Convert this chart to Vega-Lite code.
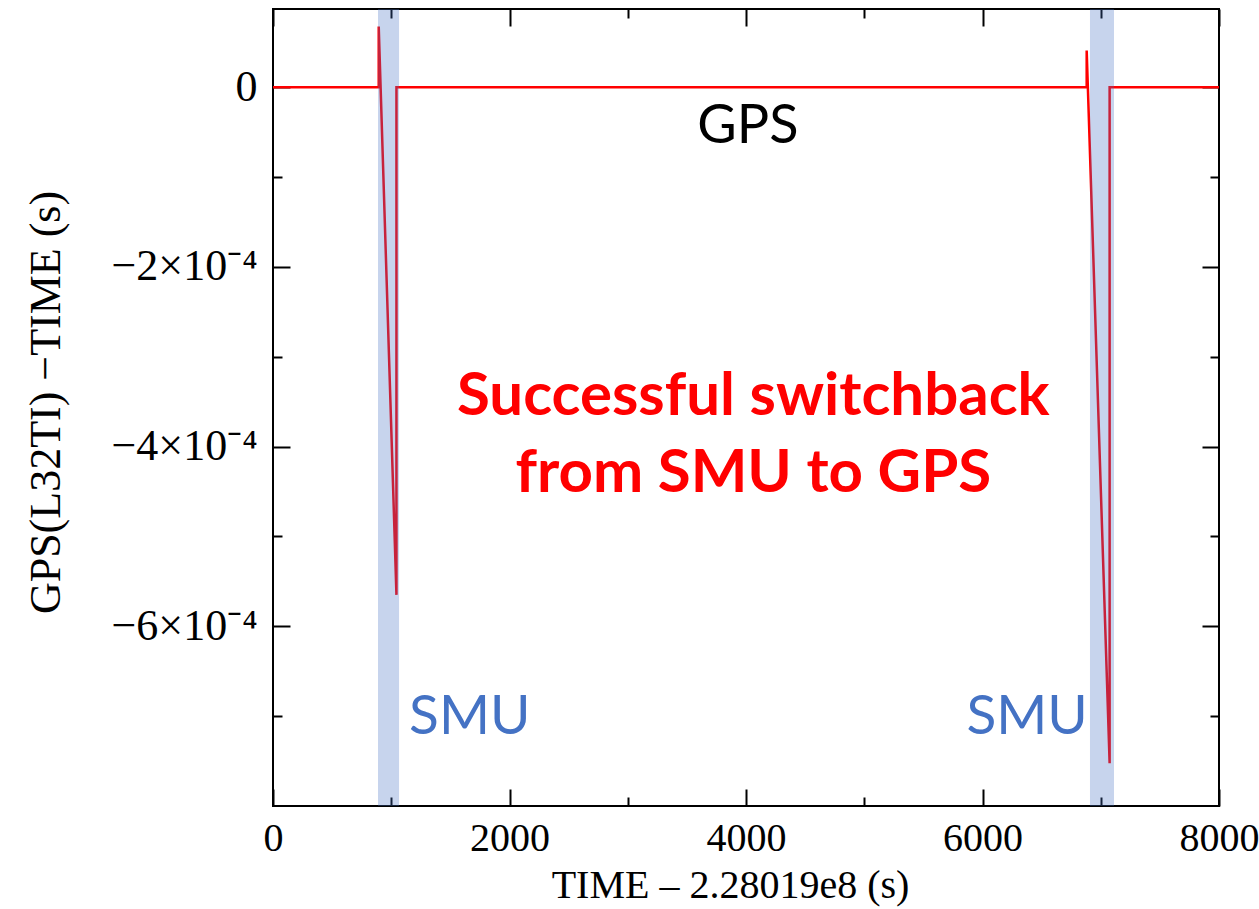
{
  "$schema": "https://vega.github.io/schema/vega-lite/v6.json",
  "width": 946,
  "height": 797,
  "autosize": {"type": "none"},
  "padding": {"left": 273, "top": 9, "right": 40, "bottom": 103},
  "background": "white",
  "config": {
    "view": {"stroke": "black", "strokeWidth": 2},
    "axis": {
      "labelFont": "Liberation Serif",
      "titleFont": "Liberation Serif",
      "labelColor": "black",
      "titleColor": "black",
      "tickColor": "black",
      "tickWidth": 2,
      "domain": false,
      "grid": false,
      "titleFontWeight": "normal",
      "labelOverlap": false,
      "labelFlush": false,
      "labelBound": false
    }
  },
  "datasets": {
    "trace": [
      {"i": 1, "t": 0, "dt": 0},
      {"i": 2, "t": 894, "dt": 0},
      {"i": 3, "t": 894, "dt": 0.0000675},
      {"i": 4, "t": 1044, "dt": -0.000565},
      {"i": 5, "t": 1044, "dt": 0},
      {"i": 6, "t": 6881, "dt": 0},
      {"i": 7, "t": 6881, "dt": 0.0000407},
      {"i": 8, "t": 7075, "dt": -0.0007525},
      {"i": 9, "t": 7075, "dt": 0},
      {"i": 10, "t": 8000, "dt": 0}
    ],
    "smu_periods": [
      {"start": 888, "end": 1066},
      {"start": 6909, "end": 7112}
    ],
    "source_label": [
      {"t": 4016, "dt": -0.0000442, "text": "GPS"}
    ],
    "smu_labels": [
      {"t": 1664, "dt": -0.000701, "text": "SMU"},
      {"t": 6377, "dt": -0.000701, "text": "SMU"}
    ],
    "note": [
      {"t": 4062, "dt": -0.0003446, "text": "Successful switchback"},
      {"t": 4062, "dt": -0.000431, "text": "from SMU to GPS"}
    ]
  },
  "layer": [
    {
      "data": {"name": "trace"},
      "mark": {"type": "line", "color": "#ff0000", "strokeWidth": 2.5},
      "encoding": {
        "x": {
          "field": "t", "type": "quantitative",
          "scale": {"domain": [0, 8000], "nice": false, "zero": false},
          "axis": {
            "orient": "bottom",
            "values": [0, 1000, 2000, 3000, 4000, 5000, 6000, 7000, 8000],
            "labelExpr": "datum.value % 2000 === 0 ? datum.label : ''",
            "format": "d",
            "tickSize": {"condition": {"test": "datum.value % 2000 === 0", "value": -17}, "value": -9},
            "labelFont": "Liberation Serif",
            "labelFontSize": 40,
            "labelBaseline": "middle",
            "labelPadding": 49,
            "title": "TIME – 2.28019e8 (s)",
            "titleFont": "Liberation Serif",
            "titleFontSize": 40,
            "titleBaseline": "alphabetic",
            "titleX": 457,
            "titleY": 91
          }
        },
        "y": {
          "field": "dt", "type": "quantitative",
          "scale": {"domain": [-0.0008, 0.000087], "nice": false, "zero": false},
          "axis": {
            "orient": "left",
            "values": [0, -0.0001, -0.0002, -0.0003, -0.0004, -0.0005, -0.0006, -0.0007],
            "labelExpr": "datum.value === 0 ? '0' : (round(datum.value * 10000) % 2 === 0 ? '−' + abs(round(datum.value * 10000)) + '×10⁻⁴' : '')",
            "tickSize": {"condition": {"test": "round(datum.value * 10000) % 2 === 0", "value": -17}, "value": -9},
            "labelFont": "Liberation Serif",
            "labelFontSize": 44,
            "labelPadding": 33,
            "title": "GPS(L32TI) −TIME (s)",
            "titleFont": "Liberation Serif",
            "titleFontSize": 44,
            "titleBaseline": "alphabetic",
            "titleX": -214,
            "titleY": 393
          }
        },
        "order": {"field": "i", "type": "quantitative"}
      }
    },
    {
      "data": {"name": "smu_periods"},
      "mark": {"type": "rect", "color": "#4472C4", "opacity": 0.3},
      "encoding": {
        "x": {"field": "start", "type": "quantitative", "axis": null},
        "x2": {"field": "end"}
      }
    },
    {
      "data": {"name": "source_label"},
      "mark": {"type": "text", "font": "Lato", "fontSize": 54, "color": "black", "align": "center", "baseline": "middle"},
      "encoding": {
        "x": {
          "field": "t", "type": "quantitative",
          "axis": {
            "orient": "top",
            "values": [0, 1000, 2000, 3000, 4000, 5000, 6000, 7000, 8000],
            "labels": false,
            "title": null,
            "tickSize": {"condition": {"test": "datum.value % 2000 === 0", "value": -17}, "value": -9}
          }
        },
        "y": {
          "field": "dt", "type": "quantitative",
          "axis": {
            "orient": "right",
            "values": [0, -0.0001, -0.0002, -0.0003, -0.0004, -0.0005, -0.0006, -0.0007],
            "labels": false,
            "title": null,
            "tickSize": {"condition": {"test": "round(datum.value * 10000) % 2 === 0", "value": -17}, "value": -9}
          }
        },
        "text": {"field": "text"}
      }
    },
    {
      "data": {"name": "smu_labels"},
      "mark": {"type": "text", "font": "Lato", "fontSize": 55, "color": "#4472C4", "align": "center", "baseline": "middle"},
      "encoding": {
        "x": {"field": "t", "type": "quantitative", "axis": null},
        "y": {"field": "dt", "type": "quantitative", "axis": null},
        "text": {"field": "text"}
      }
    },
    {
      "data": {"name": "note"},
      "mark": {"type": "text", "font": "Lato", "fontSize": 60, "fontWeight": "bold", "color": "#ff0000", "align": "center", "baseline": "middle"},
      "encoding": {
        "x": {"field": "t", "type": "quantitative", "axis": null},
        "y": {"field": "dt", "type": "quantitative", "axis": null},
        "text": {"field": "text"}
      }
    }
  ],
  "resolve": {"axis": {"x": "independent", "y": "independent"}}
}
